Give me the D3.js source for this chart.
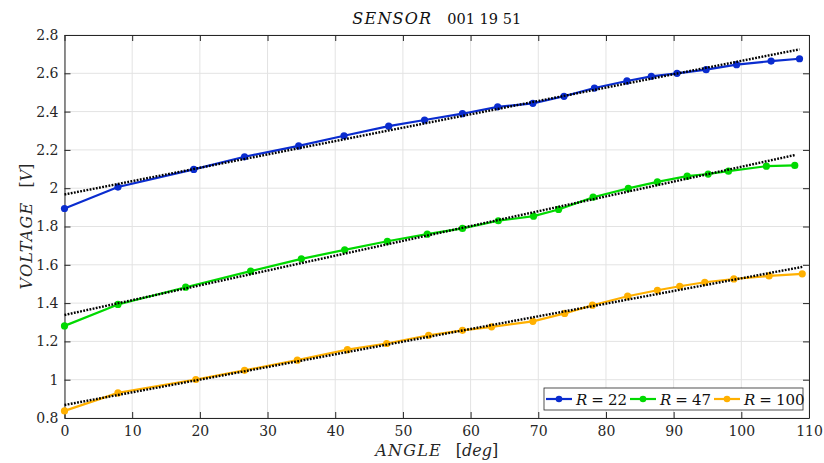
<!DOCTYPE html>
<html>
<head>
<meta charset="utf-8">
<script src="https://cdn.jsdelivr.net/npm/d3@7"></script>
<style>
  body { margin: 0; background: #fff; }
</style>
</head>
<body>
<svg id="chart" width="824" height="463"></svg>
<script>
// angle [deg] and voltage [V], one pair of arrays per resistor
const angle22 = [0, 7.9, 19.1, 26.6, 34.6, 41.3, 47.9, 53.2, 58.8, 64.0, 69.2, 73.8, 78.3, 83.1, 86.7, 90.5, 94.8, 99.3, 104.4, 108.6];
const volt22  = [1.894, 2.006, 2.098, 2.164, 2.221, 2.274, 2.324, 2.356, 2.389, 2.425, 2.443, 2.480, 2.523, 2.560, 2.584, 2.600, 2.619, 2.645, 2.664, 2.676];

const angle47 = [0, 7.9, 17.9, 27.5, 35.0, 41.4, 47.7, 53.6, 58.8, 64.1, 69.3, 73.0, 78.1, 83.3, 87.6, 92.0, 95.1, 98.1, 103.7, 107.9];
const volt47  = [1.281, 1.393, 1.483, 1.567, 1.631, 1.678, 1.723, 1.760, 1.790, 1.830, 1.854, 1.889, 1.953, 1.999, 2.033, 2.063, 2.074, 2.089, 2.115, 2.119];

const angle100 = [0, 7.9, 19.4, 26.6, 34.4, 41.8, 47.6, 53.8, 58.8, 63.1, 69.2, 73.9, 78.0, 83.2, 87.6, 90.9, 94.6, 98.9, 104.1, 109.0];
const volt100  = [0.837, 0.931, 1.001, 1.049, 1.102, 1.157, 1.189, 1.232, 1.258, 1.276, 1.305, 1.346, 1.389, 1.436, 1.467, 1.488, 1.509, 1.526, 1.542, 1.553];

// dotted linear fits: [angle, voltage] at both ends
const fit22  = [[0, 1.967], [108.6, 2.725]];
const fit47  = [[0, 1.338], [107.9, 2.173]];
const fit100 = [[0, 0.868], [109.0, 1.589]];

const seriesNames = ["22", "47", "100"];
const xTicks = [0, 10, 20, 30, 40, 50, 60, 70, 80, 90, 100, 110];
const yTicks = [0.8, 1, 1.2, 1.4, 1.6, 1.8, 2, 2.2, 2.4, 2.6, 2.8];

const series = [
    {name: seriesNames[0], x: angle22, y: volt22, fit: fit22, color: "#0a2ccf"},
    {name: seriesNames[1], x: angle47, y: volt47, fit: fit47, color: "#00d900"},
    {name: seriesNames[2], x: angle100, y: volt100, fit: fit100, color: "#ffb000"}
];

const serif = "'DejaVu Serif', 'Liberation Serif', 'Times New Roman', Times, serif";

const svg = d3.select("svg#chart");
const margin = {top: 35, left: 64.5, right: 15, bottom: 45};
const width = +svg.attr("width");
const height = +svg.attr("height");

let xScale = d3.scaleLinear().domain([0, 110]).range([margin.left, width - margin.right]);
let yScale = d3.scaleLinear().domain([0.8, 2.8]).range([height - margin.bottom, margin.top]);

const x0 = xScale.range()[0], x1 = xScale.range()[1];
const y0 = yScale.range()[0], y1 = yScale.range()[1];

// grid
svg.append("g").selectAll("line.vg")
    .data(xTicks)
    .join("line")
    .attr("x1", d => xScale(d)).attr("x2", d => xScale(d))
    .attr("y1", y1).attr("y2", y0)
    .style("stroke", "#e3e3e3").style("stroke-width", 1);
svg.append("g").selectAll("line.hg")
    .data(yTicks)
    .join("line")
    .attr("x1", x0).attr("x2", x1)
    .attr("y1", d => yScale(d)).attr("y2", d => yScale(d))
    .style("stroke", "#e3e3e3").style("stroke-width", 1);

// axes (ticks inside, box on all four sides)
const tickColor = "#262626";
const axisFont = "14px";
svg.append("g")
    .attr("transform", `translate(0, ${y0})`)
    .call(d3.axisBottom(xScale).tickValues(xTicks).tickSizeInner(-6).tickSizeOuter(0).tickPadding(8).tickFormat(d3.format("d")))
    .call(g => g.attr("font-family", null))
    .call(g => g.selectAll("text").style("font-family", serif).style("font-size", axisFont).style("fill", tickColor))
    .call(g => g.selectAll("line, path").style("stroke", tickColor));
svg.append("g")
    .attr("transform", `translate(${x0}, 0)`)
    .call(d3.axisLeft(yScale).tickValues(yTicks).tickSizeInner(-6).tickSizeOuter(0).tickPadding(6).tickFormat(d => d3.format("")(+d.toFixed(1))))
    .call(g => g.attr("font-family", null))
    .call(g => g.selectAll("text").style("font-family", serif).style("font-size", axisFont).style("fill", tickColor))
    .call(g => g.selectAll("line, path").style("stroke", tickColor));
svg.append("g")
    .attr("transform", `translate(0, ${y1})`)
    .call(d3.axisTop(xScale).tickValues(xTicks).tickSizeInner(-6).tickSizeOuter(0).tickFormat(""))
    .call(g => g.selectAll("line, path").style("stroke", tickColor));
svg.append("g")
    .attr("transform", `translate(${x1}, 0)`)
    .call(d3.axisRight(yScale).tickValues(yTicks).tickSizeInner(-6).tickSizeOuter(0).tickFormat(""))
    .call(g => g.selectAll("line, path").style("stroke", tickColor));

// data lines, markers and fits
let line = d3.line().x(d => xScale(d[0])).y(d => yScale(d[1]));

series.forEach(s => {
    let pts = s.x.map((a, i) => [a, s.y[i]]);
    svg.append("path")
        .datum(pts)
        .attr("d", line)
        .style("fill", "none")
        .style("stroke", s.color)
        .style("stroke-width", 2.2);
    svg.append("g").selectAll("circle")
        .data(pts)
        .join("circle")
        .attr("cx", d => xScale(d[0]))
        .attr("cy", d => yScale(d[1]))
        .attr("r", 3.6)
        .style("fill", s.color);
});
series.forEach(s => {
    svg.append("path")
        .datum(s.fit)
        .attr("d", line)
        .style("fill", "none")
        .style("stroke", "#000")
        .style("stroke-width", 2.4)
        .style("stroke-dasharray", "1.8,1.4");
});

// title
let title = svg.append("text")
    .attr("x", (x0 + x1) / 2)
    .attr("y", 24)
    .attr("text-anchor", "middle")
    .style("font-family", serif)
    .style("font-size", "16px")
    .style("fill", "#111");
title.append("tspan").style("font-style", "italic").style("letter-spacing", "1.2px").text("SENSOR");
title.append("tspan").attr("dx", 15).style("font-size", "14.5px").text("001 19 51");

// axis labels
let xLabel = svg.append("text")
    .attr("x", (x0 + x1) / 2)
    .attr("y", 456)
    .attr("text-anchor", "middle")
    .style("font-family", serif)
    .style("font-size", "16px")
    .style("fill", "#262626");
xLabel.append("tspan").style("font-style", "italic").style("letter-spacing", "1.2px").text("ANGLE");
xLabel.append("tspan").attr("dx", 14).text("[");
xLabel.append("tspan").style("font-style", "italic").text("deg");
xLabel.append("tspan").text("]");

let yLabel = svg.append("text")
    .attr("transform", `translate(32, ${(y0 + y1) / 2}) rotate(-90)`)
    .attr("text-anchor", "middle")
    .style("font-family", serif)
    .style("font-size", "16px")
    .style("fill", "#262626");
yLabel.append("tspan").style("font-style", "italic").style("letter-spacing", "1.2px").text("VOLTAGE");
yLabel.append("tspan").attr("dx", 14).text("[");
yLabel.append("tspan").style("font-style", "italic").text("V");
yLabel.append("tspan").text("]");

// legend
const legend = svg.append("g").attr("transform", "translate(544, 388)");
legend.append("rect")
    .attr("width", 259).attr("height", 22)
    .style("fill", "#fff").style("stroke", "#262626").style("stroke-width", 0.8);
const entryX = [2, 86, 170];
series.forEach((s, i) => {
    let g = legend.append("g").attr("transform", `translate(${entryX[i]}, 11)`);
    g.append("line").attr("x1", 0).attr("x2", 26).style("stroke", s.color).style("stroke-width", 2.2);
    g.append("circle").attr("cx", 13).attr("r", 3.3).style("fill", s.color);
    let t = g.append("text").attr("x", 30).attr("y", 5.5)
        .style("font-family", serif).style("font-size", "15px").style("fill", "#111");
    t.append("tspan").style("font-style", "italic").text("R");
    t.append("tspan").attr("dx", 4).text("=");
    t.append("tspan").attr("dx", 4).text(s.name);
});
</script>
</body>
</html>
